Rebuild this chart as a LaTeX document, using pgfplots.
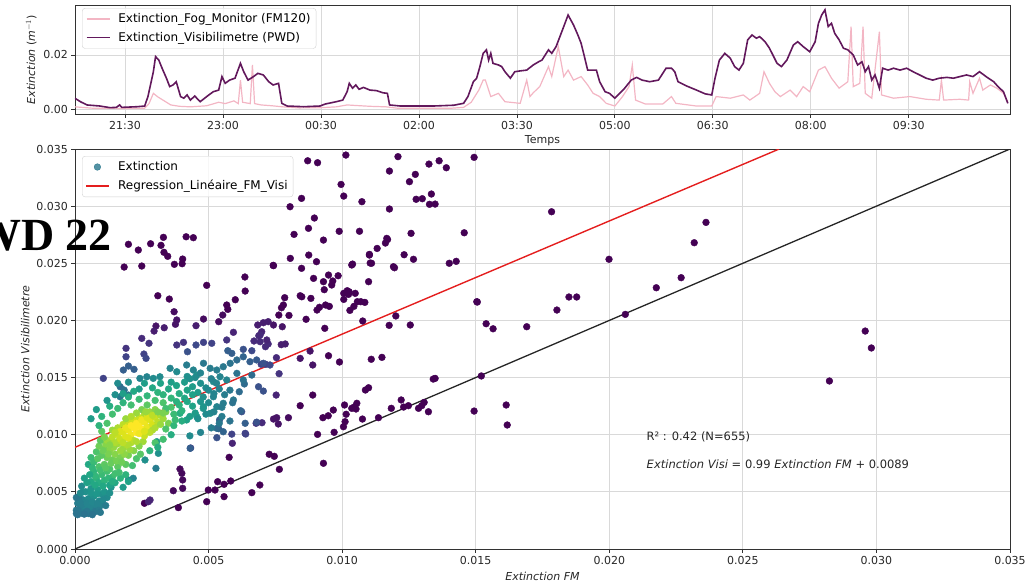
\documentclass[border=0pt]{standalone}
\usepackage{fontspec}
\setmainfont{DejaVu Sans}
\newfontfamily\wdfont{Liberation Serif}
\usepackage{pgfplots}
\usepackage{pgfplotstable}
\pgfplotsset{compat=1.18}
\definecolor{fmpink}{RGB}{243,182,196}
\definecolor{pwdpurple}{RGB}{98,24,92}
\definecolor{legteal}{RGB}{42,120,142}
\definecolor{axgray}{RGB}{50,50,50}
\definecolor{regred}{RGB}{228,30,30}

% time in minutes after 21:30, extinction in 1e-3 m^-1
\pgfplotstableread{
t v
-46 3.96
-41 2.7
-35 1.5
-23 1.1
-14 0.5
-8 0.6
-5 1.5
-3 0.6
11 0.85
18 1.1
21 4.6
24 10.1
26 13.8
28 19.4
31 18.1
34 15.1
38 11.4
41 8.3
44 8.9
47 10.1
51 4.6
54 4.0
57 5.2
60 3.3
64 4.8
69 2.7
75 4.6
81 6.4
86 7.0
89 12.0
92 9.5
96 10.7
101 11.4
106 16.9
109 13.8
113 10.7
118 12.0
122 13.2
127 12.6
132 10.1
136 8.9
141 9.5
144 2.1
149 1.1
164 0.85
179 1.1
184 1.85
194 2.7
200 3.3
204 6.4
206 9.5
209 7.7
212 8.9
215 7.3
219 8.0
225 7.0
231 6.8
237 6.0
241 5.8
243 1.5
253 1.1
283 1.1
302 1.4
311 2.1
315 4.6
320 10.1
323 11.4
326 15.7
329 20.6
332 21.9
334 18.1
336 20.6
338 16.9
343 16.3
346 15.7
349 13.8
354 11.4
358 13.8
363 14.1
369 14.4
375 16.3
380 17.5
383 18.1
389 21.9
392 20.6
396 23.1
403 30.5
407 34.8
412 31.1
416 27.4
419 24.3
422 19.4
425 14.4
430 14.4
433 14.4
436 10.1
441 6.4
445 5.8
450 4.0
453 5.2
459 7.7
465 10.7
470 11.7
475 10.7
482 10.1
490 10.7
494 13.2
497 15.1
502 15.1
505 13.8
508 10.1
516 8.5
525 7.0
533 5.6
539 5.2
542 11.4
546 18.1
551 20.6
556 18.8
560 15.7
564 14.4
568 16.9
572 25.6
576 27.4
580 26.2
583 26.8
588 24.9
592 22.5
599 16.9
603 15.7
608 18.1
614 23.7
618 24.9
623 23.1
629 21.2
634 24.9
637 31.7
640 34.8
643 36.7
646 30.5
649 31.7
652 28.0
656 25.6
660 22.5
664 21.9
669 20.0
673 16.3
677 17.5
680 13.8
683 15.7
686 10.7
689 12.6
693 7.7
696 15.1
701 14.4
706 15.1
712 14.4
718 15.1
724 13.8
730 12.6
736 11.4
742 10.7
748 11.4
755 11.7
761 11.4
767 12.0
773 12.6
779 12.0
785 13.8
791 12.0
798 10.1
802 8.3
807 6.4
811 2.1
}\pwddata

\pgfplotstableread{
t v
-46 0.8
-30 0.3
0 0.2
18 0.3
22 2.0
26 5.8
30 4.5
36 3.0
42 1.5
50 1.0
60 0.8
75 1.2
86 2.5
92 2.0
100 3.0
104 2.0
106 10.7
108 2.5
115 2.0
117 16.3
119 2.0
125 1.5
135 1.2
145 0.8
160 0.4
180 0.5
194 0.8
204 1.5
212 1.3
225 1.0
240 0.8
250 0.3
300 0.3
311 0.6
318 2.5
325 7.0
329 10.7
331 10.7
336 4.6
343 5.8
349 2.7
363 2.1
369 10.7
372 4.6
375 6.0
381 8.3
389 15.7
392 12.0
398 23.1
403 12.0
407 14.4
412 10.7
419 12.0
425 8.9
430 5.8
436 4.6
442 2.1
450 1.1
457 4.6
463 8.3
466 16.3
469 3.3
478 1.85
494 1.85
502 4.6
506 2.1
525 1.1
539 1.1
543 4.6
556 4.0
568 5.2
574 3.3
583 5.8
587 13.8
592 9.5
597 6.4
602 4.6
611 7.0
617 4.6
623 8.3
629 6.4
637 14.4
643 15.7
649 11.4
656 7.7
664 10.1
667 30.5
669 8.3
675 9.5
678 30.5
680 5.8
686 4.0
693 28.6
695 5.2
706 4.0
721 4.6
736 3.6
748 3.3
750 10.7
752 3.3
767 3.6
775 3.3
776 10.1
779 5.8
785 11.4
788 7.0
795 8.9
801 7.7
807 5.8
811 2.7
}\fmdata

% x = Extinction FM, y = Extinction Visi (both in 1e-3), m = point density
\pgfplotstableread{
x y m
14.94 34.27 0
13.25 33.68 0
13.63 33.97 0
13.90 33.36 0
12.74 32.78 0
12.52 32.14 0
12.77 30.60 0
13.00 30.65 0
13.34 31.06 0
13.27 30.16 0
13.48 30.18 0
17.84 29.51 0
12.58 27.62 0
14.57 27.67 0
12.32 25.75 0
12.67 25.35 0
14.01 25.00 0
14.27 25.17 0
19.99 25.35 0
23.62 28.58 0
23.18 26.80 0
22.69 23.74 0
21.76 22.86 0
15.06 21.61 0
18.49 22.05 0
18.78 22.05 0
18.04 20.91 0
20.60 20.53 0
12.55 19.60 0
15.39 19.71 0
15.65 19.27 0
16.91 19.45 0
29.58 19.07 0
28.24 14.70 0
29.81 17.59 0
15.21 15.14 0
16.14 12.60 0
16.18 10.85 0
14.94 12.07 0
13.41 14.87 0
8.71 33.97 0
9.08 33.80 0
10.14 34.47 0
12.09 34.33 0
11.77 33.07 0
9.96 31.90 0
10.06 30.88 0
10.74 30.39 0
8.48 30.68 0
8.05 29.95 0
11.77 29.75 0
8.96 28.96 0
8.20 27.53 0
8.74 28.06 0
9.89 27.80 0
10.65 27.80 0
9.30 27.03 0
11.67 27.18 0
11.62 26.77 0
11.31 26.30 0
11.02 25.72 0
11.10 25.00 0
11.96 24.61 0
10.39 24.93 0
8.75 25.72 0
8.06 25.43 0
9.04 25.14 0
7.42 24.82 0
8.48 24.56 0
9.49 23.97 0
9.85 23.91 0
8.93 23.68 0
9.30 23.39 0
9.65 23.45 0
9.33 22.69 0
9.61 23.10 0
10.99 23.39 0
6.36 23.80 0
6.37 22.57 0
4.93 23.07 0
6.00 21.81 0
5.72 20.97 0
4.81 20.12 0.03
5.38 19.89 0.03
5.53 20.47 0.03
7.85 21.99 0
8.43 22.16 0
8.83 21.93 0
7.73 21.11 0
7.80 21.35 0
7.63 20.47 0
8.01 20.44 0
9.06 20.91 0
9.15 21.15 0
9.38 21.35 0
9.52 21.23 0
10.06 21.84 0
10.19 22.60 0
10.26 22.51 0
10.06 22.37 0
10.29 20.88 0
10.44 21.23 0
10.57 21.64 0
10.70 21.64 0
10.85 21.58 0
10.77 19.95 0
9.35 19.31 0
8.65 20.10 0
7.43 19.60 0.05
7.76 19.45 0.05
6.84 19.60 0.08
7.05 19.80 0.08
7.23 19.89 0.08
6.88 18.66 0.12
6.70 18.20 0.12
6.99 19.01 0.1
7.23 17.94 0.12
7.13 17.70 0.12
7.72 17.88 0.08
7.87 17.94 0.08
7.54 16.74 0.12
6.97 16.16 0.2
7.14 16.16 0.18
7.64 15.34 0.15
8.43 16.68 0.05
8.80 17.32 0.05
8.90 16.10 0.05
9.49 16.91 0
9.90 16.36 0
11.09 16.60 0
11.49 16.77 0
12.01 20.39 0
11.76 19.57 0
13.48 14.93 0
15.04 21.64 0
7.53 13.47 0.1
6.24 12.01 0.25
6.78 11.00 0.15
7.00 11.05 0.12
7.43 11.37 0.05
7.55 11.49 0.05
7.99 11.49 0.03
6.37 10.12 0.2
8.43 12.54 0
8.90 13.47 0
9.08 10.03 0
9.70 10.21 0
9.28 11.49 0
9.48 11.66 0
9.67 12.16 0
10.09 12.60 0
10.15 11.79 0
10.11 11.14 0
10.05 10.70 0
10.36 12.31 0
10.45 12.42 0
10.55 12.75 0
10.52 12.25 0
10.87 13.91 0
10.99 14.11 0
10.76 11.37 0
11.36 11.49 0
11.84 12.31 0
12.30 12.42 0
12.48 12.54 0
12.21 13.04 0
12.86 12.31 0
12.98 12.54 0
13.07 12.83 0
13.23 12.01 0
2.60 4.00 0
3.87 3.62 0
3.68 5.10 0.02
4.03 5.31 0.02
3.93 7.00 0.02
4.00 6.62 0.02
4.03 6.04 0.02
4.33 8.84 0.2
4.93 4.14 0
4.99 5.16 0
5.24 5.16 0
5.34 5.89 0
5.58 5.66 0
5.83 5.95 0
5.58 4.58 0
5.77 8.02 0
5.89 9.25 0.1
5.31 9.74 0.25
5.38 10.53 0.3
5.41 11.29 0.3
6.39 10.06 0.2
6.62 4.93 0
6.92 5.60 0
7.27 8.29 0
7.46 8.11 0
7.65 6.97 0
7.61 10.94 0.05
6.87 14.20 0.25
7.05 13.82 0.25
6.15 13.76 0.35
6.34 14.44 0.35
9.30 7.50 0
1.84 24.67 0
2.00 26.66 0
2.37 26.16 0
2.50 24.76 0
2.83 26.71 0
3.22 26.57 0
3.31 27.27 0
3.33 25.96 0
3.47 25.61 0
3.72 24.91 0
4.03 25.37 0
4.01 24.96 0
4.16 27.32 0
4.43 27.24 0
7.43 24.79 0
8.49 22.07 0
10.36 24.85 0
11.02 25.78 0
11.05 25.02 0
11.70 27.08 0
11.92 24.70 0
10.24 22.28 0
10.49 22.37 0
3.10 22.16 0
3.53 21.87 0
3.71 20.76 0.03
3.81 20.04 0.05
3.76 19.66 0.05
3.03 19.51 0.05
2.96 19.07 0.08
3.34 19.36 0.08
4.53 19.54 0.08
5.68 21.35 0
2.50 18.43 0.12
2.77 18.00 0.15
1.91 17.56 0.15
1.91 16.82 0.2
2.58 17.06 0.2
2.66 16.68 0.22
3.81 17.85 0.15
4.06 18.08 0.15
4.21 17.26 0.25
4.53 17.85 0.22
4.81 18.08 0.2
5.12 18.00 0.2
5.68 18.29 0.15
5.93 18.96 0.1
5.72 17.35 0.3
5.87 17.12 0.3
6.30 17.47 0.25
6.62 17.35 0.22
6.93 18.72 0.12
7.18 18.29 0.1
6.93 18.14 0.12
1.06 14.93 0.2
2.00 16.01 0.3
2.21 15.72 0.3
1.81 15.66 0.3
1.69 14.20 0.35
1.84 13.91 0.38
2.00 13.47 0.4
1.69 13.32 0.4
2.43 14.93 0.45
2.69 15.07 0.45
2.93 14.93 0.48
3.18 15.07 0.48
3.56 15.81 0.45
3.81 15.51 0.48
4.18 16.10 0.42
4.43 15.66 0.45
4.56 15.22 0.5
4.81 16.25 0.4
5.06 15.81 0.42
5.31 15.66 0.42
5.55 15.95 0.4
5.81 16.25 0.38
6.06 16.54 0.35
6.30 16.82 0.32
6.55 16.39 0.3
6.80 16.54 0.28
7.05 16.25 0.25
7.30 16.10 0.22
6.06 15.37 0.38
6.30 14.79 0.38
6.62 15.22 0.35
5.18 14.64 0.48
5.43 15.07 0.45
5.68 14.79 0.45
5.18 13.32 0.45
5.31 12.45 0.45
5.55 12.75 0.42
5.93 13.04 0.4
6.37 11.00 0.3
6.80 11.10 0.25
4.81 12.45 0.52
5.06 11.87 0.48
4.56 11.58 0.55
4.18 11.29 0.58
3.93 11.87 0.62
5.31 10.56 0.35
5.55 10.26 0.32
5.87 10.05 0.2
4.31 8.81 0.3
3.06 9.39 0.55
3.12 8.37 0.5
3.03 7.06 0.42
2.62 7.79 0.5
2.00 6.04 0.45
2.18 6.19 0.45
2.75 4.14 0.1
2.81 4.29 0.1
0.10 3.00 0.38
0.20 3.20 0.4
0.30 3.10 0.4
0.40 3.40 0.42
0.50 3.10 0.4
0.60 3.30 0.42
0.70 3.50 0.42
0.80 3.30 0.4
0.90 3.60 0.42
0.20 3.60 0.42
0.10 4.00 0.42
0.35 3.80 0.45
0.55 3.70 0.45
0.75 3.90 0.45
0.30 4.30 0.45
0.15 4.60 0.42
0.50 4.40 0.48
0.70 4.60 0.5
0.90 4.20 0.48
1.00 4.80 0.5
0.40 5.00 0.5
0.60 5.30 0.52
0.25 5.50 0.48
0.85 5.20 0.55
1.10 5.00 0.52
1.20 4.50 0.48
1.35 5.40 0.52
1.30 4.90 0.5
1.00 3.90 0.45
0.05 3.40 0.4
0.45 3.30 0.4
0.10 3.40 0.4
0.25 3.90 0.43
0.15 4.20 0.43
0.45 4.00 0.45
0.65 4.10 0.46
0.85 4.00 0.45
1.05 4.30 0.47
1.15 3.80 0.42
0.65 3.00 0.38
0.95 3.20 0.4
0.35 3.05 0.38
0.05 3.10 0.38
0.05 4.50 0.4
0.30 5.00 0.5
0.20 4.90 0.48
0.60 4.90 0.52
0.80 4.80 0.53
0.60 5.90 0.6
0.80 6.20 0.65
0.90 5.80 0.62
1.00 6.50 0.68
1.10 6.00 0.65
1.20 6.80 0.7
0.70 6.80 0.65
0.90 7.20 0.72
1.10 7.40 0.75
1.30 7.00 0.72
1.40 6.30 0.68
1.50 6.60 0.7
1.60 7.20 0.75
1.40 7.80 0.78
1.20 8.00 0.78
1.00 8.20 0.75
0.80 8.50 0.72
0.60 8.00 0.68
0.90 9.00 0.78
1.10 8.80 0.8
1.30 8.60 0.82
1.50 8.30 0.82
1.70 8.00 0.8
1.80 8.80 0.85
1.60 9.20 0.86
1.90 7.40 0.75
2.00 8.20 0.8
2.20 8.60 0.82
2.10 9.30 0.88
1.70 6.20 0.65
1.50 5.80 0.6
1.30 5.60 0.58
1.90 6.50 0.65
2.30 7.90 0.72
0.50 7.40 0.6
0.70 7.60 0.68
1.80 5.40 0.55
2.00 5.90 0.58
0.75 6.40 0.66
0.95 6.90 0.7
1.15 7.10 0.74
1.35 7.50 0.77
1.55 7.70 0.79
1.25 8.30 0.8
1.45 8.90 0.84
1.05 8.60 0.78
0.85 7.90 0.74
0.65 7.10 0.66
1.75 7.60 0.78
1.85 8.30 0.83
2.05 8.70 0.85
1.95 9.10 0.88
1.65 9.50 0.9
1.35 9.40 0.86
1.15 9.20 0.82
0.95 9.50 0.75
2.15 7.30 0.7
2.45 8.30 0.74
2.55 9.40 0.86
0.55 6.50 0.6
0.45 5.80 0.57
0.35 6.20 0.56
0.75 5.60 0.6
1.05 5.50 0.6
1.25 6.20 0.66
1.65 6.70 0.7
1.40 5.90 0.62
1.20 9.50 0.85
1.40 9.80 0.9
1.60 10.00 0.92
1.80 10.20 0.95
2.00 10.40 0.97
2.20 10.60 1.0
2.40 10.90 1.0
2.60 11.10 0.98
2.80 11.30 0.95
3.00 11.50 0.92
3.20 11.70 0.88
1.50 9.30 0.88
1.70 9.60 0.92
1.90 9.80 0.95
2.10 10.00 0.98
2.30 10.20 1.0
2.50 10.50 1.0
2.70 10.70 0.97
2.90 10.90 0.94
3.10 11.10 0.9
3.30 11.40 0.86
1.60 10.60 0.88
1.80 10.90 0.9
2.00 11.10 0.92
2.20 11.30 0.93
2.40 11.50 0.92
2.60 11.80 0.88
2.80 12.00 0.85
3.00 12.20 0.82
3.40 12.00 0.8
2.50 12.20 0.8
2.30 11.90 0.85
1.90 11.40 0.85
1.40 10.40 0.85
2.90 10.40 0.88
3.50 11.00 0.8
2.60 9.90 0.92
2.20 9.50 0.9
1.70 8.60 0.85
2.40 9.00 0.82
1.30 9.10 0.82
1.10 9.80 0.8
1.00 10.30 0.75
3.60 12.40 0.72
3.30 12.80 0.72
2.70 12.60 0.75
1.70 10.30 0.95
1.90 10.60 0.97
2.10 10.80 1.0
2.30 11.00 1.0
2.50 11.30 0.98
2.70 11.50 0.95
2.90 11.70 0.9
2.10 11.60 0.88
2.30 10.70 1.0
2.00 9.70 0.95
2.40 10.10 0.98
2.80 10.20 0.9
3.00 10.60 0.88
3.20 10.90 0.85
1.80 9.30 0.9
2.30 9.40 0.88
1.50 10.20 0.9
2.60 10.30 0.95
3.10 12.00 0.8
2.65 12.00 0.85
0.90 10.80 0.65
1.20 11.00 0.72
1.00 11.60 0.65
1.40 11.80 0.7
1.60 12.30 0.68
1.30 12.50 0.62
1.80 12.80 0.65
2.10 12.60 0.7
2.00 13.30 0.62
2.40 13.10 0.68
2.70 13.40 0.66
3.00 13.00 0.7
3.30 13.50 0.65
3.60 13.20 0.66
3.90 13.60 0.62
4.20 13.90 0.58
3.80 14.30 0.58
4.10 14.60 0.55
4.40 14.20 0.55
4.60 13.70 0.55
3.50 14.00 0.6
2.90 14.10 0.6
3.20 14.50 0.58
3.90 12.60 0.65
4.20 12.90 0.6
3.70 11.80 0.68
4.00 12.10 0.65
4.40 12.50 0.58
4.70 12.90 0.52
3.40 10.50 0.72
3.70 10.80 0.66
4.00 11.20 0.62
4.30 11.60 0.56
2.40 14.00 0.55
1.50 13.50 0.5
1.20 13.00 0.52
0.80 12.20 0.55
0.60 11.40 0.55
4.80 13.30 0.5
5.00 12.80 0.48
5.20 13.60 0.45
4.90 14.10 0.48
4.50 15.00 0.48
5.30 14.50 0.45
3.30 9.60 0.7
3.60 10.00 0.62
3.00 9.30 0.72
2.80 8.60 0.65
3.10 8.90 0.62
3.40 12.30 0.7
3.80 12.90 0.64
4.10 13.20 0.6
4.40 13.50 0.57
3.60 14.60 0.56
4.30 14.90 0.5
4.70 14.50 0.5
3.10 13.70 0.65
2.60 14.50 0.56
2.20 13.80 0.6
1.80 13.60 0.56
1.60 14.50 0.48
2.00 14.60 0.5
3.30 11.90 0.8
3.75 11.30 0.68
4.50 11.90 0.55
4.80 12.30 0.52
5.00 13.90 0.47
5.60 13.50 0.42
5.40 14.00 0.44
5.80 13.90 0.4
5.10 14.90 0.44
4.70 15.40 0.45
4.20 15.10 0.5
4.60 11.40 0.5
4.90 11.80 0.48
5.20 12.00 0.45
5.50 11.60 0.42
5.80 11.20 0.38
5.40 11.00 0.4
5.10 10.60 0.42
4.70 10.20 0.45
4.30 9.90 0.48
5.50 12.40 0.42
5.90 12.80 0.38
6.20 12.10 0.32
}\scat

\begin{document}
\begin{tikzpicture}
\path[use as bounding box] (0pt,0pt) rectangle (1026pt,-586pt);
\pgfplotsset{
  mpl/.style={
    scale only axis,
    axis line style={axgray, line width=0.8pt},
    tick align=outside,
    major tick length=3.5pt,
    tick style={axgray, line width=0.8pt},
    tick pos=left,
    grid=major,
    major grid style={gray!30, line width=0.8pt},
    scaled ticks=false,
    tick label style={font=\fontsize{11}{13}\selectfont, text=black!85},
    label style={font=\fontsize{11}{13}\selectfont, text=black!85},
    legend cell align=left,
    legend image code/.code={\draw[#1] (0pt,0pt) -- (23pt,0pt);},
    legend style={draw=gray!35, rounded corners=3pt, fill=white, fill opacity=0.8, text opacity=1,
      inner sep=3.5pt, row sep=4pt, font=\fontsize{12}{14}\selectfont, anchor=north west,
      /tikz/every odd column/.append style={column sep=6pt}},
  }
}
\begin{axis}[mpl,
  at={(75pt,-114pt)}, anchor=south west,
  width=935pt, height=109pt,
  xmin=-46, xmax=813, ymin=-1.85, ymax=38.5,
  xtick={0,90,...,720},
  xticklabels={21:30,23:00,00:30,02:00,03:30,05:00,06:30,08:00,09:30},
  ytick={0,20}, yticklabels={0.00,0.02},
  xlabel={Temps},
  ylabel={\textit{Extinction} (\textit{m}$^{-1}$)},
  xlabel style={yshift=1pt},
  legend style={at={(0.0075,0.972)}},
]
\addplot[fmpink, line width=1.2pt] table[x=t,y=v]{\fmdata};
\addlegendentry{Extinction\_Fog\_Monitor (FM120)}
\addplot[pwdpurple, line width=1.6pt] table[x=t,y=v]{\pwddata};
\addlegendentry{Extinction\_Visibilimetre (PWD)}
\end{axis}
\begin{axis}[mpl,
  at={(75pt,-549pt)}, anchor=south west,
  width=935pt, height=400pt,
  xmin=0, xmax=35, ymin=0, ymax=35,
  xtick={0,5,...,35},
  xticklabels={0.000,0.005,0.010,0.015,0.020,0.025,0.030,0.035},
  ytick={0,5,...,35},
  yticklabels={0.000,0.005,0.010,0.015,0.020,0.025,0.030,0.035},
  xlabel={\textit{Extinction FM}},
  ylabel={\textit{Extinction Visibilimetre}},
  xlabel style={yshift=-1pt},
  colormap/viridis,
  point meta min=0, point meta max=1,
  legend style={at={(0.0075,0.9825)}},
]
\addlegendimage{legend image code/.code={\fill[legteal] (11pt,0pt) circle (3.3pt);}}
\addlegendentry{Extinction}
\addlegendimage{regred, line width=1.4pt}
\addlegendentry{Regression\_Linéaire\_FM\_Visi}
\addplot[scatter, only marks, mark=*, mark size=3.4pt, point meta=explicit,
  scatter/use mapped color={draw=mapped color, fill=mapped color}, forget plot]
  table[x=x, y=y, meta=m]{\scat};
\addplot[black!85, line width=1.3pt, forget plot] coordinates {(0,0) (35,35)};
\addplot[regred, line width=1.4pt, forget plot] coordinates {(0,8.9) (26.36,35)};
\node[anchor=west, font=\fontsize{11.5}{13}\selectfont, text=black!85] at (axis cs:21.27,9.8) {R² : 0.42 (N=655)};
\node[anchor=west, font=\fontsize{11.5}{13}\selectfont, text=black!85] at (axis cs:21.27,7.44) {\textit{Extinction Visi} = 0.99 \textit{Extinction FM} + 0.0089};
\end{axis}
\node[anchor=base east, inner sep=0pt] at (112pt,-250pt) {\wdfont\bfseries\fontsize{46}{46}\selectfont WD 22};
\end{tikzpicture}
\end{document}
